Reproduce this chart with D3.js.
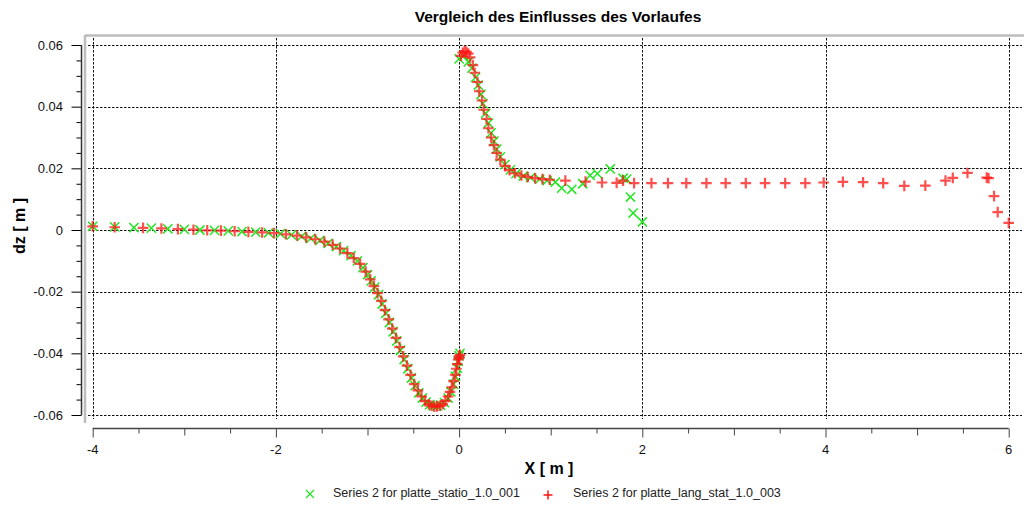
<!DOCTYPE html>
<html>
<head>
<meta charset="utf-8">
<script src="https://cdn.jsdelivr.net/npm/d3@7"></script>
<style>
  body { margin: 0; background: #fff; }
  svg { display: block; font-family: "Liberation Sans", Arial, sans-serif; }
</style>
</head>
<body>
<div id="chart"></div>
<script>
var title = "Vergleich des Einflusses des Vorlaufes";
var xLabel = "X [ m ]";
var yLabel = "dz [ m ]";
var seriesNames = ["Series 2 for platte_statio_1.0_001", "Series 2 for platte_lang_stat_1.0_003"];

var xTicks = [-4, -2, 0, 2, 4, 6];
var yTicks = [-0.06, -0.04, -0.02, 0, 0.02, 0.04, 0.06];
var yTickLabels = ["-0.06", "-0.04", "-0.02", "0", "0.02", "0.04", "0.06"];

// series 1 (green x)
var statioX = [-4.0, -3.76, -3.55, -3.36, -3.18, -3.0, -2.83, -2.67, -2.52, -2.37, -2.22, -2.08, -1.95, -1.83,
  -1.72, -1.62, -1.52, -1.43, -1.34, -1.26, -1.18, -1.11, -1.05, -1.0, -0.96, -0.92, -0.88, -0.84, -0.8,
  -0.76, -0.72, -0.68, -0.64, -0.6, -0.56, -0.52, -0.48, -0.44, -0.4, -0.36, -0.32, -0.28, -0.24, -0.2,
  -0.16, -0.12, -0.09, -0.06, -0.04, -0.02, -0.01, 0.0, 0.01,
  0.0, 0.05, 0.1, 0.14, 0.18, 0.21, 0.24, 0.26, 0.29, 0.32, 0.35, 0.38, 0.41, 0.45, 0.5, 0.56, 0.62, 0.7,
  0.78, 0.88, 0.96, 1.05, 1.12, 1.23, 1.35, 1.43, 1.51, 1.65, 1.79, 1.83, 1.87, 1.9, 2.0];
var statioDz = [0.0012, 0.001, 0.0008, 0.0006, 0.0004, 0.0002, 0.0, -0.0001, -0.0003, -0.0005, -0.0007, -0.0009, -0.0012, -0.0016,
  -0.0021, -0.0027, -0.0034, -0.0043, -0.0054, -0.0067, -0.0083, -0.01, -0.0122, -0.0145, -0.0165, -0.0185, -0.021, -0.024, -0.027,
  -0.03, -0.033, -0.036, -0.039, -0.042, -0.045, -0.048, -0.0505, -0.0528, -0.0545, -0.0558, -0.0566, -0.057, -0.0571, -0.0568,
  -0.056, -0.0545, -0.0525, -0.05, -0.0475, -0.0448, -0.0425, -0.0408, -0.04,
  0.0555, 0.0565, 0.0545, 0.0525, 0.0495, 0.047, 0.044, 0.041, 0.0378, 0.0347, 0.0315, 0.0288, 0.0262, 0.0237, 0.0212, 0.0195, 0.0183, 0.0175,
  0.017, 0.0165, 0.016, 0.0155, 0.0136, 0.0132, 0.015, 0.0177, 0.0183, 0.0198, 0.0168, 0.0165, 0.0107, 0.0055, 0.0026];

// series 2 (red +)
var langX = [-4.0, -3.76, -3.45, -3.25, -3.07, -2.9, -2.75, -2.6, -2.45, -2.3, -2.15, -2.02, -1.89, -1.77,
  -1.67, -1.57, -1.47, -1.38, -1.3, -1.22, -1.15, -1.08, -1.02, -0.97, -0.93, -0.89, -0.85, -0.81, -0.77,
  -0.73, -0.69, -0.65, -0.61, -0.57, -0.53, -0.49, -0.45, -0.41, -0.37, -0.33, -0.3, -0.27, -0.24, -0.21,
  -0.18, -0.15, -0.12, -0.1, -0.08, -0.06, -0.04, -0.03, -0.02, -0.01, 0.0, 0.01, 0.0,
  0.02, 0.04, 0.06, 0.08, 0.1, 0.12, 0.15, 0.17, 0.2, 0.22, 0.25, 0.27, 0.3, 0.32, 0.35, 0.38, 0.41, 0.45,
  0.5, 0.55, 0.61, 0.68, 0.75, 0.83, 0.91, 0.99, 1.16, 1.38, 1.56, 1.72, 1.79, 1.91, 2.1, 2.28, 2.48, 2.7,
  2.91, 3.13, 3.34, 3.56, 3.78, 3.98, 4.19, 4.41, 4.63, 4.86, 5.09, 5.31, 5.39, 5.55, 5.76, 5.78, 5.84, 5.88, 6.0];
var langDz = [0.0012, 0.0009, 0.0007, 0.0005, 0.0003, 0.0001, -0.0001, -0.0002, -0.0004, -0.0006, -0.0008, -0.001, -0.0014, -0.0018,
  -0.0024, -0.003, -0.0038, -0.0048, -0.006, -0.0075, -0.0091, -0.011, -0.0135, -0.016, -0.0182, -0.0205, -0.023, -0.026, -0.029,
  -0.032, -0.035, -0.038, -0.041, -0.044, -0.047, -0.05, -0.052, -0.054, -0.0555, -0.0565, -0.057, -0.0573, -0.0572, -0.057,
  -0.0565, -0.0555, -0.054, -0.0525, -0.051, -0.049, -0.047, -0.045, -0.0435, -0.042, -0.041, -0.0405, -0.0415,
  0.0565, 0.0575, 0.058, 0.0578, 0.0572, 0.056, 0.0535, 0.051, 0.048, 0.045, 0.042, 0.039, 0.036, 0.033, 0.03, 0.0275, 0.025, 0.0228,
  0.0208, 0.0194, 0.0184, 0.0177, 0.0172, 0.0168, 0.0165, 0.0163, 0.016, 0.0157, 0.0154, 0.0153, 0.016, 0.0152, 0.0152, 0.0152, 0.0152, 0.0152,
  0.0152, 0.0152, 0.0152, 0.0152, 0.0152, 0.0154, 0.0156, 0.0155, 0.0152, 0.0143, 0.0144, 0.016, 0.0169, 0.0185, 0.017, 0.0168, 0.011, 0.0058, 0.0023];

var W = 1024, H = 505;
var svg = d3.select("#chart").append("svg").attr("width", W).attr("height", H);

var x = d3.scaleLinear().domain([-4, 6]).range([92.7, 1008.7]);
var y = d3.scaleLinear().domain([-0.06, 0.06]).range([415, 45]);

// title
svg.append("text")
  .attr("x", 558).attr("y", 22)
  .attr("text-anchor", "middle")
  .attr("font-size", 15.5).attr("font-weight", "bold")
  .text(title);

// grey frame (top and left)
svg.append("line").attr("x1", 85).attr("x2", W).attr("y1", 35.5).attr("y2", 35.5)
  .attr("stroke", "#bdbdbd").attr("stroke-width", 2.5);
svg.append("line").attr("x1", 85).attr("x2", 85).attr("y1", 35).attr("y2", 423)
  .attr("stroke", "#bdbdbd").attr("stroke-width", 2.5);

// grid
var grid = svg.append("g").attr("stroke", "#111").attr("stroke-width", 1).attr("stroke-dasharray", "2.5,1.5");
grid.selectAll(".gx").data(xTicks).enter().append("line")
  .attr("x1", function (d) { return Math.round(x(d)) + 0.5; })
  .attr("x2", function (d) { return Math.round(x(d)) + 0.5; })
  .attr("y1", 38).attr("y2", 419);
grid.selectAll(".gy").data(yTicks).enter().append("line")
  .attr("y1", function (d) { return Math.round(y(d)) + 0.5; })
  .attr("y2", function (d) { return Math.round(y(d)) + 0.5; })
  .attr("x1", 88).attr("x2", 1022);

// y axis
var yAxis = d3.axisLeft(y)
  .tickValues(d3.range(-0.06, 0.0601, 0.005))
  .tickSize(5)
  .tickFormat("");
var gy = svg.append("g").attr("transform", "translate(81.5,0)").call(yAxis);
gy.select(".domain").remove();
gy.selectAll(".tick line")
  .attr("x2", function (d) { return Math.abs(Math.round(d * 1000) % 20) < 1e-6 ? -10 : -5; });
svg.append("line").attr("x1", 81.5).attr("x2", 81.5).attr("y1", y(0.06)).attr("y2", y(-0.06))
  .attr("stroke", "#333").attr("stroke-width", 1.5);
svg.selectAll(".ylab").data(yTicks).enter().append("text")
  .attr("x", 63).attr("y", function (d) { return y(d) + 4.5; })
  .attr("text-anchor", "end").attr("font-size", 13).attr("fill", "#111")
  .text(function (d, i) { return yTickLabels[i]; });

// x axis
var xAxis = d3.axisBottom(x)
  .tickValues(d3.range(-4, 6.01, 0.5))
  .tickSize(5)
  .tickFormat("");
var gx = svg.append("g").attr("transform", "translate(0,428.5)").call(xAxis);
gx.select(".domain").remove();
gx.selectAll(".tick line")
  .attr("stroke", "#444")
  .attr("y2", function (d) {
    if (Math.abs(d % 2) < 1e-6) return 9;
    if (Math.abs(d % 1) < 1e-6) return 7;
    return 5;
  });
svg.append("line").attr("x1", x(-4)).attr("x2", x(6)).attr("y1", 428.5).attr("y2", 428.5)
  .attr("stroke", "#444").attr("stroke-width", 1.5);
svg.selectAll(".xlab").data(xTicks).enter().append("text")
  .attr("x", function (d) { return x(d); }).attr("y", 454)
  .attr("text-anchor", "middle").attr("font-size", 13).attr("fill", "#111")
  .text(function (d) { return d; });

// axis titles
svg.append("text").attr("x", 549).attr("y", 474)
  .attr("text-anchor", "middle").attr("font-size", 16).attr("font-weight", "bold")
  .text(xLabel);
svg.append("text").attr("transform", "translate(25,226) rotate(-90)")
  .attr("text-anchor", "middle").attr("font-size", 16).attr("font-weight", "bold")
  .text(yLabel);

// markers
var crossPath = function (s) { return "M" + (-s) + "," + (-s) + "L" + s + "," + s + "M" + (-s) + "," + s + "L" + s + "," + (-s); };
var plusPath = function (s) { return "M" + (-s) + ",0L" + s + ",0M0," + (-s) + "L0," + s; };

var green = "#22e622", red = "#ff1414";

svg.append("g").selectAll("path").data(d3.range(statioX.length)).enter().append("path")
  .attr("transform", function (i) { return "translate(" + x(statioX[i]) + "," + y(statioDz[i]) + ")"; })
  .attr("d", crossPath(4.6))
  .attr("stroke", green).attr("stroke-width", 1.5).attr("fill", "none");

svg.append("g").selectAll("path").data(d3.range(langX.length)).enter().append("path")
  .attr("transform", function (i) { return "translate(" + x(langX[i]) + "," + y(langDz[i]) + ")"; })
  .attr("d", plusPath(5.3))
  .attr("stroke", red).attr("stroke-width", 2.2).attr("stroke-opacity", 0.75).attr("fill", "none");

// legend
var legend = svg.append("g");
legend.append("path").attr("transform", "translate(310,494)").attr("d", crossPath(4))
  .attr("stroke", green).attr("stroke-width", 1.2).attr("fill", "none");
legend.append("text").attr("x", 333).attr("y", 497).attr("font-size", 12.5).attr("fill", "#222").text(seriesNames[0]);
legend.append("path").attr("transform", "translate(548,495)").attr("d", plusPath(4.5))
  .attr("stroke", red).attr("stroke-width", 1.5).attr("fill", "none");
legend.append("text").attr("x", 573).attr("y", 497).attr("font-size", 12.5).attr("fill", "#222").text(seriesNames[1]);
</script>
</body>
</html>
